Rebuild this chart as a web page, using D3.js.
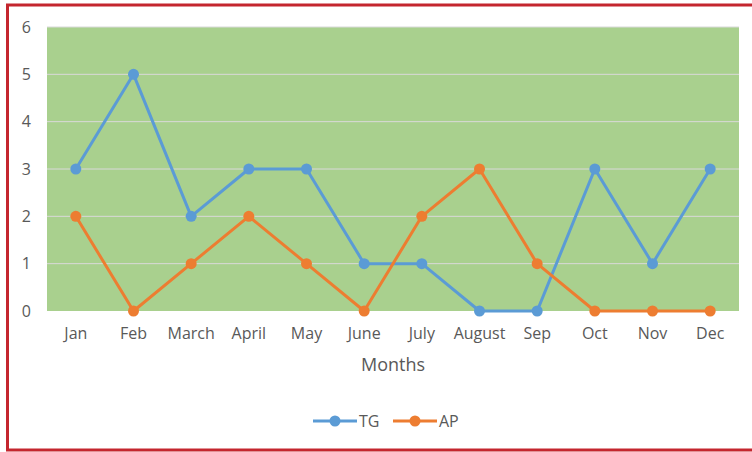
<!DOCTYPE html>
<html>
<head>
<meta charset="utf-8">
<script src="https://cdn.jsdelivr.net/npm/d3@7"></script>
<style>
  body { margin: 0; background: #fff; }
  #chart text { font-family: "Open Sans", "Noto Sans", sans-serif; fill: #595959; }
</style>
</head>
<body>
<div id="chart"></div>
<script>
const months = ["Jan","Feb","March","April","May","June","July","August","Sep","Oct","Nov","Dec"];
const tgValues = [3,5,2,3,3,1,1,0,0,3,1,3];
const apValues = [2,0,1,2,1,0,2,3,1,0,0,0];
const yTicks = [0,1,2,3,4,5,6];

const width = 752, height = 452;
const plot = {left: 47, right: 739, top: 27, bottom: 311};

let svg = d3.select("#chart")
  .append("svg")
  .attr("width", width)
  .attr("height", height);

/** FRAME */
svg.append("rect")
  .attr("x", 7.5).attr("y", 5)
  .attr("width", 760).attr("height", 445)
  .style("fill", "none")
  .style("stroke", "#c4262e")
  .style("stroke-width", 3);

/** SCALES */
let x = d3.scaleBand().domain(months).range([plot.left, plot.right]);
let y = d3.scaleLinear().domain([0, 6]).range([plot.bottom, plot.top]);

svg.append("rect")
  .attr("x", plot.left).attr("y", plot.top)
  .attr("width", plot.right - plot.left)
  .attr("height", plot.bottom - plot.top)
  .style("fill", "#a9d08e");

/** GRID + Y AXIS */
svg.append("g")
  .selectAll("line")
  .data(yTicks.filter(d => d > 0)).enter()
  .append("line")
  .attr("x1", plot.left).attr("x2", plot.right)
  .attr("y1", d => y(d)).attr("y2", d => y(d))
  .style("stroke", "#d9d9d9")
  .style("stroke-width", 1);

let yAxis = svg.append("g")
  .attr("transform", `translate(${plot.left - 16},0)`)
  .call(d3.axisLeft(y).tickValues(yTicks).tickFormat(d3.format("d")).tickSize(0).tickPadding(0));
yAxis.select(".domain").remove();
yAxis.selectAll("text").attr("font-size", 16).style("text-anchor", "end");

/** X AXIS */
let xAxis = svg.append("g")
  .attr("transform", `translate(0,${plot.bottom})`)
  .call(d3.axisBottom(x).tickSize(0).tickPadding(17));
xAxis.select(".domain").remove();
xAxis.selectAll("text").attr("font-size", 16);

svg.append("text")
  .text("Months")
  .attr("x", (plot.left + plot.right) / 2)
  .attr("y", 371)
  .attr("text-anchor", "middle")
  .attr("font-size", 18);

/** SERIES */
let series = [
  {name: "TG", values: tgValues, color: "#5b9bd5"},
  {name: "AP", values: apValues, color: "#ed7d31"}
];
let line = d3.line()
  .x((d, i) => x(months[i]) + x.bandwidth() / 2)
  .y(d => y(d));

series.forEach(s => {
  svg.append("path")
    .datum(s.values)
    .attr("d", line)
    .style("fill", "none")
    .style("stroke", s.color)
    .style("stroke-width", 3)
    .style("stroke-linejoin", "round");
  svg.append("g")
    .selectAll("circle")
    .data(s.values).enter()
    .append("circle")
    .attr("cx", (d, i) => x(months[i]) + x.bandwidth() / 2)
    .attr("cy", d => y(d))
    .attr("r", 5.5)
    .style("fill", s.color);
});

/** LEGEND */
let legend = svg.append("g").attr("transform", "translate(313,421)");
series.forEach((s, i) => {
  let g = legend.append("g").attr("transform", `translate(${i * 80},0)`);
  g.append("line")
    .attr("x1", 0).attr("x2", 44)
    .style("stroke", s.color)
    .style("stroke-width", 3);
  g.append("circle").attr("cx", 22).attr("r", 5.5).style("fill", s.color);
  g.append("text")
    .text(s.name)
    .attr("x", 46).attr("y", 6)
    .attr("font-size", 16);
});
</script>
</body>
</html>
